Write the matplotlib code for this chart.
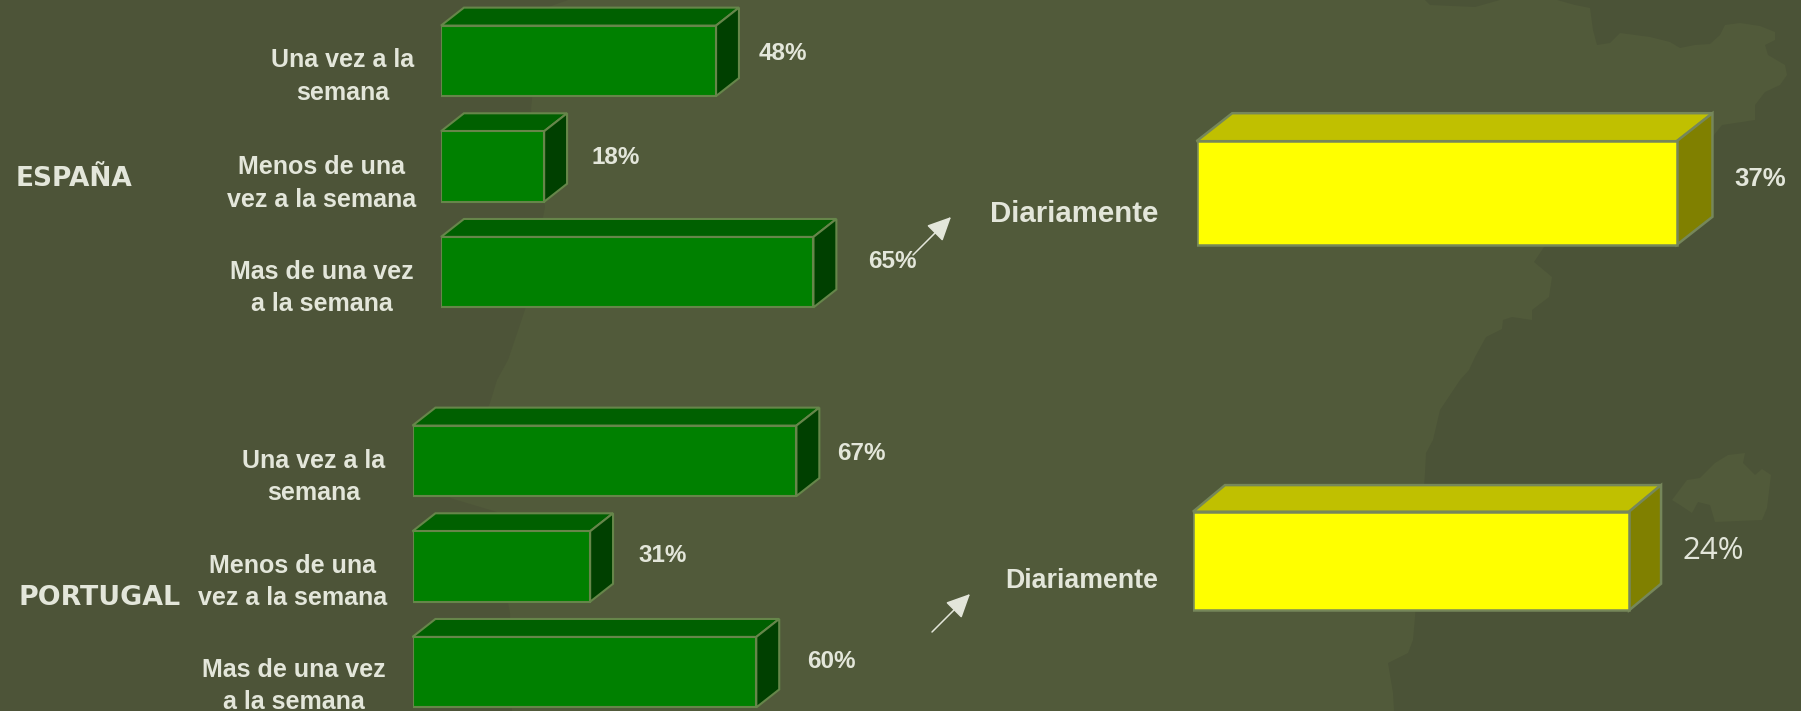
"""Weekly and daily frequency bars for Spain and Portugal, drawn as 3D boxes."""

import matplotlib

matplotlib.use("Agg")
import matplotlib.pyplot as plt
from matplotlib.patches import Polygon

W, H = 1801, 711

categories = ["Una vez a la\nsemana", "Menos de una\nvez a la semana", "Mas de una vez\na la semana"]
spain_values = [48, 18, 65]
portugal_values = [67, 31, 60]
spain_daily = [37]
portugal_daily = [24]
daily_labels = ["Diariamente"]

BG = "#515a3a"
SHADE = "#4b5337"
LEFT_SHADE = "#4d5438"
INK = "#e3e6da"
GREEN = ("#008000", "#006000", "#004000", "#66864a")
YELLOW = ("#ffff00", "#c0c000", "#808000", "#76875a")

plt.rcParams["font.family"] = ["Liberation Sans", "DejaVu Sans"]

fig = plt.figure(figsize=(W / 100, H / 100), dpi=100, facecolor=BG)


def px_axes(left, top, width, height):
    return fig.add_axes([left / W, 1 - (top + height) / H, width / W, height / H])


# full-figure pixel canvas for the backdrop, headings and arrows
canvas = px_axes(0, 0, W, H)
canvas.set_xlim(0, W)
canvas.set_ylim(H, 0)
canvas.axis("off")
canvas.set_zorder(0)

# faint map silhouettes behind the chart
west_coast = [(0, 0), (568, 0), (540, 10), (531, 110), (545, 207), (525, 310), (508, 360), (497, 380),
              (490, 403), (460, 470), (450, 498), (497, 512), (500, 560), (510, 613), (512, 711), (0, 711)]
east_coast = [(1557, 0), (1575, 5), (1590, 8), (1593, 30), (1597, 45), (1610, 43), (1620, 33), (1650, 37),
              (1670, 42), (1680, 48), (1695, 45), (1710, 44), (1720, 35), (1725, 25), (1740, 23), (1760, 26),
              (1775, 32), (1775, 40), (1765, 45), (1768, 55), (1785, 65), (1787, 75), (1780, 85), (1765, 92),
              (1755, 105), (1755, 120), (1722, 125), (1710, 140), (1600, 210), (1544, 247), (1534, 262),
              (1552, 277), (1549, 297), (1532, 310), (1532, 320), (1512, 317), (1503, 320), (1502, 329),
              (1486, 337), (1475, 357), (1469, 370), (1460, 380), (1440, 410), (1433, 440), (1426, 453),
              (1425, 473), (1415, 617), (1413, 640), (1408, 653), (1388, 663), (1393, 693), (1394, 711),
              (1801, 711), (1801, 0)]
north_patch = [(1425, 0), (1430, 5), (1475, 7), (1500, 0)]
island = [(1672, 500), (1687, 480), (1700, 478), (1715, 463), (1728, 455), (1745, 453), (1743, 463),
          (1755, 475), (1762, 469), (1771, 475), (1767, 508), (1762, 520), (1715, 522), (1710, 505),
          (1698, 502), (1692, 513), (1680, 505)]
canvas.add_patch(Polygon(west_coast, fc=LEFT_SHADE, ec="none"))
canvas.add_patch(Polygon(east_coast, fc=SHADE, ec="none"))
canvas.add_patch(Polygon(north_patch, fc=SHADE, ec="none"))
canvas.add_patch(Polygon(island, fc=BG, ec="none"))


def draw_box_bars(ax, values, colors, bar_h, depth_x, depth_y, lw):
    """Horizontal bars with a top and a side face, depth given in data units."""
    front, top, side, edge = colors
    for i, v in enumerate(values):
        y0, y1 = i - bar_h / 2, i + bar_h / 2
        ax.barh(i, v, height=bar_h, color=front, edgecolor=edge, linewidth=lw, zorder=3)
        ax.add_patch(Polygon([(0, y0), (depth_x, y0 - depth_y), (v + depth_x, y0 - depth_y), (v, y0)],
                             fc=top, ec=edge, lw=lw, zorder=2, clip_on=False))
        ax.add_patch(Polygon([(v, y0), (v + depth_x, y0 - depth_y), (v + depth_x, y1 - depth_y), (v, y1)],
                             fc=side, ec=edge, lw=lw, zorder=2, clip_on=False))


def panel(left, top, width, height, xmax, n):
    ax = px_axes(left, top, width, height)
    ax.set_xlim(0, xmax)
    ax.set_ylim(n - 0.5, -0.5)
    ax.axis("off")
    ax.patch.set_alpha(0)
    ax.set_zorder(1)
    return ax


# weekly panels: 5.73 px per percentage point, 105.5 px between rows
spain_ax = panel(441, 8, 573, 317, 100, 3)
draw_box_bars(spain_ax, spain_values, GREEN, 0.667, 4.0, 0.17, 1.5)
portugal_ax = panel(412.5, 408, 573, 317, 100, 3)
draw_box_bars(portugal_ax, portugal_values, GREEN, 0.667, 4.0, 0.17, 1.5)

# daily panels use their own, larger scales
spain_day_ax = panel(1196.5, 93, 650, 200, 650 / 12.98, 1)
spain_day_ax.set_ylim(0.5, -0.5)
draw_box_bars(spain_day_ax, spain_daily, YELLOW, 0.518, 2.75, 0.14, 1.8)
portugal_day_ax = panel(1193, 461, 608, 200, 608 / 18.17, 1)
draw_box_bars(portugal_day_ax, portugal_daily, YELLOW, 0.493, 1.76, 0.133, 1.8)

BOLD = dict(color=INK, fontweight="bold", ha="center", va="center")

# category labels, two lines each
label_pos_es = [(343, 76.5), (321.5, 183.5), (321.5, 288)]
label_pos_pt = [(314, 477), (292.5, 582), (293.5, 686)]
for names, positions in ((categories, label_pos_es), (categories, label_pos_pt)):
    for name, (x, y) in zip(names, positions):
        canvas.text(x, y, name, fontsize=18, linespacing=1.45, **BOLD)

# value labels
value_pos = [(783, 54), (616, 157), (892, 262), (861, 453), (663, 555), (831, 661)]
for v, (x, y) in zip(spain_values + portugal_values, value_pos):
    canvas.text(x, y, f"{v}%", fontsize=17.5, **BOLD)
canvas.text(1760, 179, f"{spain_daily[0]}%", fontsize=18.5, **BOLD)
canvas.text(1713, 551, f"{portugal_daily[0]}%", fontsize=22.5, color=INK, ha="center", va="center",
            family="Open Sans")

canvas.text(1158, 214, daily_labels[0], fontsize=21.2, color=INK, fontweight="bold", ha="right", va="center")
canvas.text(1158, 581, daily_labels[0], fontsize=19.3, color=INK, fontweight="bold", ha="right", va="center")

canvas.text(74, 179, "ESPAÑA", fontsize=19, color=INK, fontweight="bold", ha="center", va="center",
            family="DejaVu Sans")
canvas.text(100, 598, "PORTUGAL", fontsize=19.4, color=INK, fontweight="bold", ha="center", va="center",
            family="DejaVu Sans")

for tail, tip in (((913, 255), (951, 217)), ((932, 632), (970, 594))):
    canvas.annotate("", xy=tip, xytext=tail,
                    arrowprops=dict(arrowstyle="-|>,head_length=1.05,head_width=0.5", mutation_scale=14,
                                    color=INK, lw=1.1, shrinkA=0, shrinkB=0))

fig.savefig("out.png", dpi=100, facecolor=BG)
plt.close(fig)
